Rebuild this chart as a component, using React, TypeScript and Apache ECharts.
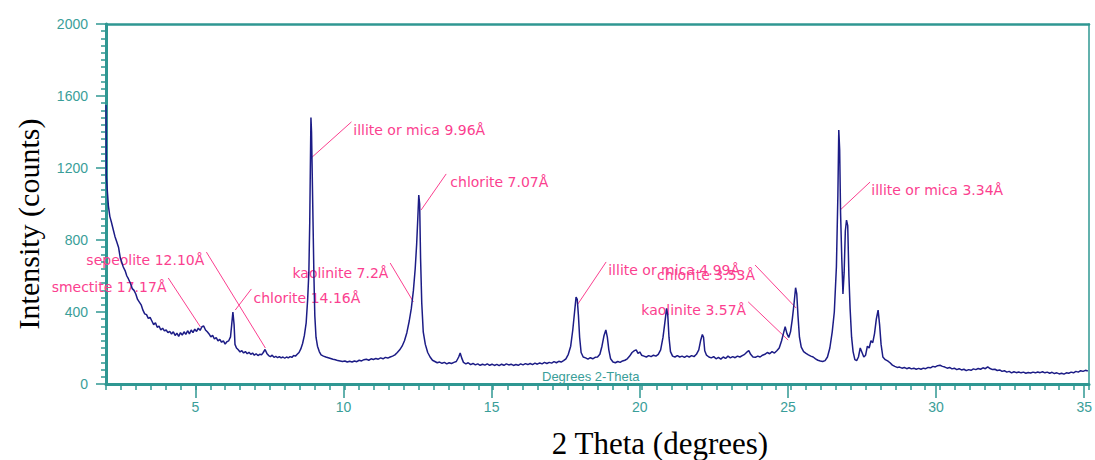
import React, { useEffect, useRef } from "react";
import * as echarts from "echarts";

const TEAL = "#2f9792";
const TEAL_TEXT = "#3a9e99";
const PINK = "#fb3f8f";
const NAVY = "#1c1c86";

const xMajorTicks = [5, 10, 15, 20, 25, 30, 35];
const yTickLabels = [0, 400, 800, 1200, 1600, 2000];

// 2θ (degrees), intensity (counts)
const pattern: [number, number][] = [
  [2.0, 1550], [2.005, 1400], [2.01, 1150], [2.03, 1110], [2.05, 1060], [2.08, 990],
  [2.13, 930], [2.18, 900], [2.24, 860], [2.3, 820], [2.36, 790], [2.42, 760], [2.48, 700],
  [2.52, 680], [2.58, 650], [2.64, 630], [2.7, 600], [2.75, 585], [2.82, 560], [2.88, 530],
  [2.94, 520], [3.0, 500], [3.06, 470], [3.12, 455], [3.18, 440], [3.24, 410], [3.3, 390],
  [3.36, 385], [3.42, 365], [3.48, 370], [3.54, 350], [3.6, 330], [3.66, 340], [3.72, 315],
  [3.78, 322], [3.84, 300], [3.9, 310], [3.96, 295], [4.02, 300], [4.08, 285], [4.14, 292],
  [4.2, 278], [4.26, 290], [4.32, 270], [4.38, 282], [4.44, 265], [4.5, 285], [4.56, 272],
  [4.62, 290], [4.68, 276], [4.74, 296], [4.8, 278], [4.86, 300], [4.92, 285], [4.98, 305],
  [5.04, 292], [5.1, 310], [5.16, 298], [5.22, 318], [5.28, 322], [5.34, 300], [5.4, 290],
  [5.46, 278], [5.52, 262], [5.58, 270], [5.64, 250], [5.7, 258], [5.76, 240], [5.82, 248],
  [5.88, 232], [5.94, 240], [6.0, 222], [6.06, 235], [6.12, 240], [6.18, 262], [6.22, 330],
  [6.26, 400], [6.3, 330], [6.33, 220], [6.38, 200], [6.44, 190], [6.5, 178], [6.56, 185],
  [6.62, 172], [6.68, 180], [6.74, 168], [6.8, 176], [6.86, 165], [6.92, 172], [6.98, 160],
  [7.04, 168], [7.1, 158], [7.16, 165], [7.22, 162], [7.28, 175], [7.34, 192], [7.4, 170],
  [7.46, 158], [7.52, 152], [7.58, 160], [7.64, 148], [7.7, 154], [7.76, 146], [7.82, 152],
  [7.88, 145], [7.94, 150], [8.0, 143], [8.06, 150], [8.12, 145], [8.18, 152], [8.24, 148],
  [8.3, 158], [8.36, 155], [8.42, 165], [8.48, 175], [8.54, 195], [8.6, 225], [8.66, 270],
  [8.72, 340], [8.77, 470], [8.81, 620], [8.84, 900], [8.86, 1200], [8.88, 1480], [8.9, 1400],
  [8.92, 1200], [8.95, 900], [8.98, 600], [9.01, 380], [9.05, 260], [9.1, 210], [9.16, 180],
  [9.22, 162], [9.3, 155], [9.38, 150], [9.46, 146], [9.54, 142], [9.62, 138], [9.7, 135],
  [9.78, 130], [9.86, 128], [9.94, 125], [10.02, 128], [10.1, 122], [10.18, 126], [10.26, 122],
  [10.34, 128], [10.42, 124], [10.5, 132], [10.58, 128], [10.66, 135], [10.74, 138], [10.82, 132],
  [10.9, 140], [10.98, 136], [11.06, 142], [11.14, 138], [11.22, 145], [11.3, 140], [11.38, 148],
  [11.46, 144], [11.54, 150], [11.62, 155], [11.7, 162], [11.78, 175], [11.86, 190], [11.94, 210],
  [12.02, 240], [12.1, 285], [12.18, 350], [12.25, 420], [12.32, 520], [12.38, 640], [12.43, 780],
  [12.47, 930], [12.5, 1050], [12.53, 1000], [12.56, 700], [12.6, 450], [12.65, 290], [12.72, 220],
  [12.8, 175], [12.88, 150], [12.96, 132], [13.04, 125], [13.12, 118], [13.2, 122], [13.28, 115],
  [13.36, 120], [13.44, 112], [13.52, 118], [13.6, 114], [13.68, 120], [13.76, 125], [13.84, 150],
  [13.89, 172], [13.94, 145], [14.0, 120], [14.08, 112], [14.16, 118], [14.24, 108], [14.32, 114],
  [14.4, 106], [14.48, 112], [14.56, 104], [14.64, 110], [14.72, 105], [14.8, 112], [14.88, 104],
  [14.96, 110], [15.04, 103], [15.12, 109], [15.2, 102], [15.28, 110], [15.36, 104], [15.44, 112],
  [15.52, 106], [15.6, 110], [15.68, 103], [15.76, 108], [15.84, 104], [15.92, 112], [16.0, 106],
  [16.08, 113], [16.16, 108], [16.24, 114], [16.32, 108], [16.4, 116], [16.48, 110], [16.56, 117],
  [16.64, 112], [16.72, 120], [16.8, 114], [16.88, 120], [16.96, 116], [17.04, 124], [17.12, 118],
  [17.2, 126], [17.28, 122], [17.36, 130], [17.44, 140], [17.52, 165], [17.6, 210], [17.67, 300],
  [17.73, 400], [17.78, 483], [17.82, 470], [17.86, 380], [17.9, 260], [17.95, 175], [18.02, 150],
  [18.1, 145], [18.18, 138], [18.26, 146], [18.34, 140], [18.42, 148], [18.5, 150], [18.58, 165],
  [18.65, 210], [18.72, 270], [18.78, 300], [18.83, 260], [18.88, 190], [18.94, 140], [19.02, 122],
  [19.1, 118], [19.18, 125], [19.26, 120], [19.34, 128], [19.42, 132], [19.5, 140], [19.58, 155],
  [19.66, 175], [19.74, 185], [19.8, 190], [19.86, 170], [19.92, 178], [19.98, 160], [20.06, 155],
  [20.14, 150], [20.22, 158], [20.3, 152], [20.38, 160], [20.46, 155], [20.54, 165], [20.62, 190],
  [20.7, 260], [20.76, 340], [20.82, 420], [20.86, 380], [20.9, 260], [20.95, 180], [21.02, 155],
  [21.1, 150], [21.18, 158], [21.26, 150], [21.34, 155], [21.42, 148], [21.5, 156], [21.58, 150],
  [21.66, 158], [21.74, 152], [21.82, 165], [21.9, 190], [21.96, 240], [22.02, 275], [22.06, 260],
  [22.1, 185], [22.16, 160], [22.24, 150], [22.32, 145], [22.4, 152], [22.48, 140], [22.56, 148],
  [22.64, 138], [22.72, 150], [22.8, 142], [22.88, 155], [22.96, 145], [23.04, 152], [23.12, 146],
  [23.2, 155], [23.28, 150], [23.36, 158], [23.44, 165], [23.52, 178], [23.58, 185], [23.64, 165],
  [23.72, 150], [23.8, 148], [23.88, 155], [23.96, 150], [24.04, 160], [24.12, 165], [24.2, 175],
  [24.28, 168], [24.36, 180], [24.44, 172], [24.52, 185], [24.6, 200], [24.68, 240], [24.74, 280],
  [24.8, 318], [24.86, 280], [24.92, 258], [24.98, 290], [25.04, 360], [25.1, 450], [25.15, 535],
  [25.19, 500], [25.23, 380], [25.28, 260], [25.34, 205], [25.42, 180], [25.5, 170], [25.58, 162],
  [25.66, 155], [25.74, 150], [25.82, 140], [25.9, 132], [25.98, 128], [26.06, 125], [26.14, 130],
  [26.22, 150], [26.3, 200], [26.38, 290], [26.45, 400], [26.52, 650], [26.57, 1050], [26.6, 1411],
  [26.63, 1300], [26.66, 950], [26.7, 700], [26.74, 500], [26.78, 620], [26.82, 850], [26.86, 910],
  [26.9, 880], [26.94, 600], [26.98, 420], [27.03, 260], [27.08, 180], [27.14, 135], [27.2, 130],
  [27.26, 150], [27.32, 200], [27.38, 175], [27.44, 150], [27.5, 160], [27.56, 210], [27.62, 200],
  [27.68, 240], [27.74, 230], [27.8, 280], [27.86, 360], [27.92, 410], [27.97, 330], [28.02, 220],
  [28.08, 150], [28.16, 135], [28.24, 128], [28.32, 118], [28.4, 105], [28.48, 98], [28.56, 92],
  [28.64, 94], [28.72, 88], [28.8, 92], [28.88, 85], [28.96, 90], [29.04, 84], [29.12, 88],
  [29.2, 82], [29.28, 87], [29.36, 82], [29.44, 88], [29.52, 85], [29.6, 92], [29.68, 90],
  [29.76, 98], [29.84, 95], [29.92, 102], [30.0, 104], [30.08, 98], [30.16, 94], [30.24, 88],
  [30.32, 92], [30.4, 84], [30.48, 88], [30.56, 80], [30.64, 85], [30.72, 78], [30.8, 82],
  [30.88, 74], [30.96, 80], [31.04, 76], [31.12, 84], [31.2, 80], [31.28, 86], [31.36, 82],
  [31.44, 90], [31.52, 85], [31.6, 95], [31.68, 86], [31.76, 80], [31.84, 82], [31.92, 75],
  [32.0, 78], [32.08, 70], [32.16, 74], [32.24, 66], [32.32, 70], [32.4, 62], [32.48, 68],
  [32.56, 63], [32.64, 67], [32.72, 62], [32.8, 66], [32.88, 60], [32.96, 64], [33.04, 61],
  [33.12, 66], [33.2, 62], [33.28, 67], [33.36, 63], [33.44, 68], [33.52, 62], [33.6, 66],
  [33.68, 60], [33.76, 65], [33.84, 58], [33.92, 62], [34.0, 56], [34.08, 60], [34.16, 55],
  [34.24, 62], [34.32, 60], [34.4, 66], [34.48, 62], [34.56, 70], [34.64, 66], [34.72, 74],
  [34.8, 70], [34.88, 76], [34.96, 72],
];

// Peak labels: text, peak point, leader end, text anchor, alignment
const peakLabels = [
  { text: "illite or mica 9.96Å", peak: [8.89, 1256], end: [10.24, 1456], at: [10.3, 1411], align: "left" },
  { text: "chlorite 7.07Å", peak: [12.58, 967], end: [13.42, 1167], at: [13.56, 1122], align: "left" },
  { text: "illite or mica 3.34Å", peak: [26.65, 967], end: [27.65, 1122], at: [27.69, 1078], align: "left" },
  { text: "sepeolite 12.10Å", peak: [7.35, 200], end: [5.37, 733], at: [5.3, 689], align: "right" },
  { text: "smectite 17.17Å", peak: [5.17, 317], end: [4.09, 589], at: [4.03, 539], align: "right" },
  { text: "chlorite 14.16Å", peak: [6.34, 411], end: [6.88, 528], at: [6.95, 478], align: "left" },
  { text: "kaolinite 7.2Å", peak: [12.32, 456], end: [11.54, 672], at: [11.48, 617], align: "right" },
  { text: "illite or mica 4.99Å", peak: [17.82, 439], end: [18.79, 678], at: [18.86, 633], align: "left" },
  { text: "chlorite 3.53Å", peak: [25.17, 422], end: [23.79, 661], at: [23.79, 606], align: "right" },
  { text: "kaolinite 3.57Å", peak: [24.9, 244], end: [23.56, 456], at: [23.49, 411], align: "right" },
];

// axis scale
const X_MIN = 2;
const X_MAX = 35;
const X_MINOR_STEP = 0.5;
const X_MAJOR_START = 5;
const X_MAJOR_STEP = 5;

export default function App() {
  const ref = useRef<HTMLDivElement>(null);

  useEffect(() => {
    if (!ref.current) return;
    const chart = echarts.init(ref.current, undefined, { renderer: "svg" });

    const W = 1095;
    const plotLeft = 106;
    const plotRight = 6;
    const plotW = W - plotLeft - plotRight;
    // second grid starts where x = 5 lies, so its interval-5 ticks fall on 5, 10, ... 35
    const majorLeft = plotLeft + ((X_MAJOR_START - X_MIN) / (X_MAX - X_MIN)) * plotW;

    chart.setOption({
      animation: false,
      backgroundColor: "#ffffff",
      grid: [
        { left: plotLeft, right: plotRight, top: 24, bottom: 76, show: false },
        { left: majorLeft, right: plotRight, top: 24, bottom: 76, show: false },
      ],
      xAxis: [
        {
          type: "value",
          gridIndex: 0,
          min: X_MIN,
          max: X_MAX,
          interval: X_MINOR_STEP,
          position: "bottom",
          axisLine: { show: true, onZero: false, lineStyle: { color: TEAL, width: 3 } },
          axisTick: { show: true, length: 6, lineStyle: { color: TEAL, width: 1.5 } },
          axisLabel: { show: false },
          splitLine: { show: false },
        },
        {
          type: "value",
          gridIndex: 1,
          min: X_MAJOR_START,
          max: X_MAX,
          interval: X_MAJOR_STEP,
          position: "bottom",
          axisLine: { show: false, onZero: false },
          axisTick: { show: true, length: 14, lineStyle: { color: TEAL, width: 1.5 } },
          axisLabel: {
            show: true,
            margin: 16,
            color: TEAL_TEXT,
            fontSize: 14,
            fontFamily: "Liberation Sans",
            formatter: (v: number) => (xMajorTicks.includes(v) ? String(v) : ""),
          },
          splitLine: { show: false },
        },
        {
          type: "value",
          gridIndex: 0,
          min: X_MIN,
          max: X_MAX,
          position: "top",
          axisLine: { show: true, onZero: false, lineStyle: { color: TEAL, width: 2.5 } },
          axisTick: { show: false },
          axisLabel: { show: false },
          splitLine: { show: false },
        },
      ],
      yAxis: [
        {
          type: "value",
          gridIndex: 0,
          min: 0,
          max: 2000,
          interval: 400,
          axisLine: { show: true, onZero: false, lineStyle: { color: TEAL, width: 3 } },
          axisTick: { show: true, length: 10, lineStyle: { color: TEAL, width: 1.5 } },
          minorTick: { show: true, splitNumber: 10, length: 5, lineStyle: { color: TEAL, width: 1.5 } },
          axisLabel: {
            margin: 18,
            color: TEAL_TEXT,
            fontSize: 14,
            fontFamily: "Liberation Sans",
            formatter: (v: number) => (yTickLabels.includes(v) ? String(v) : ""),
          },
          splitLine: { show: false },
          minorSplitLine: { show: false },
        },
        { type: "value", gridIndex: 1, min: 0, max: 2000, show: false },
        {
          type: "value",
          gridIndex: 0,
          min: 0,
          max: 2000,
          position: "right",
          axisLine: { show: true, onZero: false, lineStyle: { color: TEAL, width: 1.5 } },
          axisTick: { show: false },
          axisLabel: { show: false },
          splitLine: { show: false },
        },
      ],
      series: [
        {
          type: "line",
          data: pattern,
          xAxisIndex: 0,
          yAxisIndex: 0,
          showSymbol: false,
          symbol: "none",
          lineStyle: { color: NAVY, width: 1.5 },
          z: 3,
        },
      ],
    });

    const px = (p: number[]) => chart.convertToPixel({ xAxisIndex: 0, yAxisIndex: 0 }, p) as number[];

    const graphics: any[] = [];
    peakLabels.forEach((l) => {
      const a = px(l.peak);
      const b = px(l.end);
      const t = px(l.at);
      graphics.push({
        type: "line",
        z: 1,
        shape: { x1: a[0], y1: a[1], x2: b[0], y2: b[1] },
        style: { stroke: PINK, lineWidth: 1 },
      });
      graphics.push({
        type: "text",
        z: 1,
        x: t[0],
        y: t[1],
        style: {
          text: l.text,
          fill: PINK,
          font: "14px 'DejaVu Sans'",
          align: l.align,
          verticalAlign: "middle",
        },
      });
    });

    graphics.push({
      type: "text",
      x: 542,
      y: 376,
      z: 1,
      style: {
        text: "Degrees 2-Theta",
        fill: TEAL_TEXT,
        font: "13px 'Liberation Sans'",
        align: "left",
        verticalAlign: "middle",
      },
    });
    graphics.push({
      type: "text",
      x: 28,
      y: 224,
      rotation: Math.PI / 2,
      style: {
        text: "Intensity (counts)",
        fill: "#000000",
        font: "30px 'Liberation Serif'",
        align: "center",
        verticalAlign: "middle",
      },
    });
    graphics.push({
      type: "text",
      x: 660,
      y: 443,
      style: {
        text: "2 Theta (degrees)",
        fill: "#000000",
        font: "31px 'Liberation Serif'",
        align: "center",
        verticalAlign: "middle",
      },
    });

    chart.setOption({ graphic: graphics });

    return () => chart.dispose();
  }, []);

  return (
    <div
      ref={ref}
      style={{ position: "absolute", left: 0, top: 0, width: 1095, height: 460, background: "#fff" }}
    />
  );
}
